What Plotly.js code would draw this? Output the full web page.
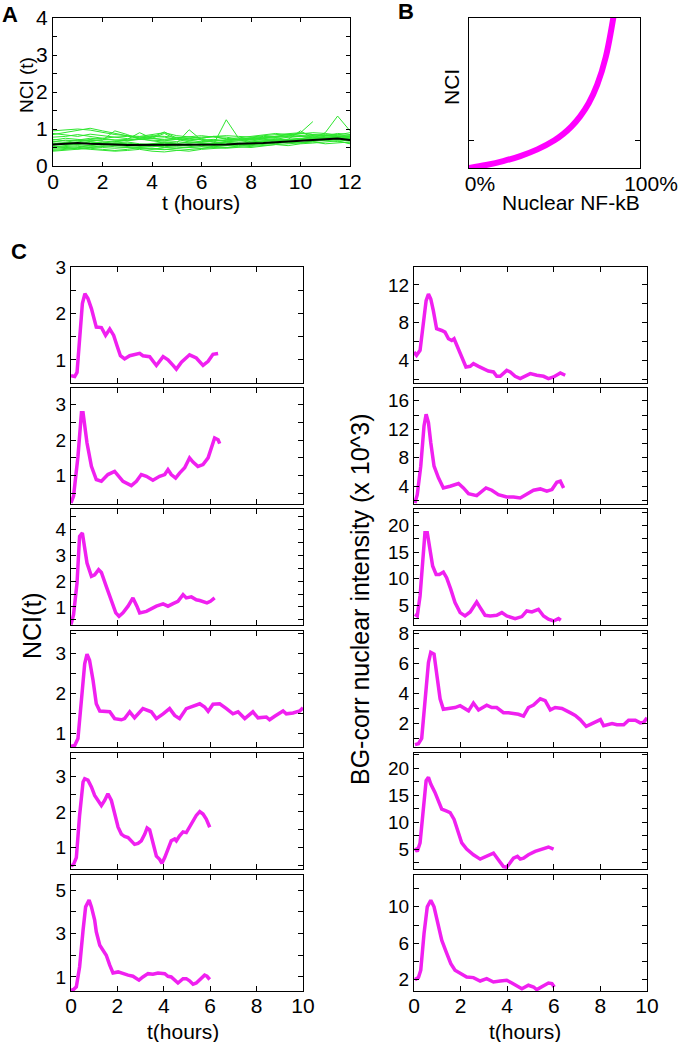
<!DOCTYPE html>
<html><head><meta charset="utf-8">
<script src="https://cdn.plot.ly/plotly-3.0.1.min.js"></script>
<style>html,body{margin:0;padding:0;background:#fff;}#chart{width:679px;height:1042px;}</style>
</head><body><div id="chart"></div>
<script>
// ---------- Panel A data (t in hours, NCI) ----------
var A_t = [0,0.5,1,1.5,2,2.5,3,3.5,4,4.5,5,5.5,6,6.5,7,7.5,8,8.5,9,9.5,10,10.5,11,11.5,12];
var A_g1 = [0.95,0.98,1.0,0.97,0.9,0.85,0.82,0.8,0.85,0.9,0.82,0.78,0.75,0.8,0.78,0.72,0.75,0.8,0.78,0.82,0.8,0.78,0.8,0.85,0.8];
var A_g2 = [0.85,0.9,0.95,1.02,0.95,0.88,0.8,0.75,0.8,0.78,0.72,0.7,0.75,0.8,0.72,0.7,0.72,0.75,0.8,0.85,0.82,0.8,0.82,0.78,0.75];
var A_g3 = [0.7,0.75,0.72,0.68,0.7,0.95,0.85,0.72,0.7,0.68,0.72,0.7,0.65,0.68,0.7,0.72,0.75,0.7,0.72,0.78,0.8,0.75,0.78,0.8,0.82];
var A_g4 = [0.6,0.62,0.65,0.7,0.68,0.65,0.7,0.72,0.75,0.88,0.72,0.65,0.62,0.6,1.25,0.75,0.65,0.68,0.7,0.72,0.75,0.72,0.7,0.75,0.72];
var A_g5 = [0.58,0.6,0.62,0.6,0.58,0.62,0.65,0.6,0.58,0.62,0.6,0.65,0.62,0.6,0.65,0.68,0.7,0.72,0.75,0.8,0.9,1.2,null,null,null];
var A_g6 = [0.5,0.52,0.55,0.5,0.52,0.55,0.58,0.55,0.52,0.55,0.58,0.6,0.58,0.62,0.6,0.58,0.62,0.65,0.7,0.68,0.72,0.75,0.9,1.35,0.95];
var A_g7 = [0.45,0.48,0.5,0.52,0.5,0.48,0.5,0.52,0.55,0.5,0.48,0.5,0.52,0.55,0.58,0.55,0.6,0.62,0.65,0.62,0.68,0.7,0.72,0.7,0.68];
var A_g8 = [0.65,0.7,0.68,0.72,0.75,0.7,0.68,0.72,0.78,0.92,0.75,0.7,0.72,0.68,0.7,0.72,0.75,0.78,0.8,0.85,0.88,0.85,0.82,0.8,0.78];
var A_g9 = [0.4,0.42,0.45,0.48,0.45,0.42,0.45,0.5,0.48,0.45,0.42,0.4,0.45,0.48,0.5,0.52,0.5,0.55,0.58,0.6,0.62,0.65,0.6,0.62,0.65];
var A_g10 = [0.52,0.55,0.58,0.62,0.65,0.6,0.62,0.58,0.6,0.65,0.62,0.98,0.7,0.65,0.62,0.6,0.65,0.68,0.7,0.72,0.95,0.75,0.72,0.78,0.8];
var A_g11 = [0.62,0.58,0.6,0.65,0.62,0.6,0.58,0.55,0.6,0.62,0.58,0.55,0.6,0.62,0.65,0.6,0.58,0.62,0.68,0.7,0.72,0.7,0.75,0.72,0.7];
var A_g12 = [0.72,0.68,0.7,0.75,0.72,0.7,0.72,0.9,0.75,0.7,0.72,0.75,0.7,0.72,0.68,0.7,0.72,0.75,0.8,0.78,0.8,0.82,0.85,0.82,0.8];
var A_g13 = [0.48,0.5,0.46,0.5,0.55,0.52,0.5,0.48,0.45,0.5,0.52,0.5,0.48,0.52,0.55,0.58,0.55,0.58,0.6,0.65,0.62,0.68,0.7,0.72,0.75];
var A_g14 = [0.56,0.6,0.58,0.55,0.58,0.62,0.6,0.58,0.55,0.52,0.55,0.58,0.6,0.58,0.55,0.58,0.6,0.62,0.6,0.65,0.7,0.72,0.75,0.78,0.72];
var A_g15 = [0.78,0.8,0.85,0.8,0.75,0.78,0.8,0.78,0.82,0.8,0.78,0.75,0.78,0.8,0.82,0.8,0.78,0.82,0.85,0.88,0.9,0.85,0.82,0.88,0.85];
var A_g16 = [0.42,0.45,0.48,0.45,0.42,0.4,0.42,0.45,0.4,0.38,0.42,0.45,0.48,0.5,0.48,0.5,0.52,0.55,0.58,0.55,0.6,0.62,0.65,0.68,0.6];
var A_g17 = [0.66,0.64,0.7,0.66,0.62,0.66,0.7,0.74,0.68,0.64,0.66,0.62,0.66,0.7,0.66,0.64,0.68,0.72,0.74,0.7,0.74,0.78,0.76,0.8,0.76];
var A_g18 = [0.54,0.5,0.52,0.56,0.6,0.56,0.52,0.5,0.46,0.44,0.48,0.52,0.56,0.52,0.5,0.54,0.58,0.6,0.64,0.66,0.64,0.66,0.7,0.66,0.62];
var A_g19 = [0.88,0.84,0.8,0.86,0.82,0.78,0.74,0.78,0.76,0.72,0.76,0.8,0.82,0.78,0.74,0.76,0.8,0.84,0.88,0.84,0.86,0.9,0.88,0.84,0.9];
var A_mean = [0.58,0.6,0.62,0.6,0.58,0.58,0.57,0.57,0.57,0.57,0.56,0.56,0.57,0.58,0.58,0.6,0.6,0.62,0.64,0.66,0.68,0.7,0.7,0.74,0.7];
var A_xticks = [0,2,4,6,8,10,12];
var A_xlabels = ['0','2','4','6','8','10','12'];
var A_yticks = [0,0.5,1,1.5,2,2.5,3,3.5,4];
var A_ylabels = ['0','','1','','2','','3','','4'];

// ---------- Panel B data ----------
var B_x = [0,0.1,0.2,0.3,0.4,0.5,0.55,0.6,0.65,0.7,0.75,0.8,0.845];
var B_y = [0,0.11,0.25,0.43,0.67,1.0,1.22,1.5,1.86,2.33,3.0,4.0,5.45];
var B_xticks = [0,1];
var B_xlabels = ['0%','100%'];
var B_yticks = [0,1];

// ---------- Panel C, left column (NCI) ----------
var L1_t = [0,0.16,0.26,0.37,0.49,0.60,0.73,0.88,1.09,1.31,1.49,1.67,1.84,1.98,2.13,2.31,2.53,2.96,3.10,3.39,3.68,3.97,4.18,4.40,4.54,4.76,5.11,5.40,5.69,5.91,6.12,6.34];
var L1_v = [0.66,0.64,0.73,1.42,2.22,2.43,2.33,2.11,1.71,1.70,1.53,1.67,1.53,1.31,1.09,1.02,1.09,1.14,1.09,1.07,0.88,1.07,1.0,0.88,0.80,0.95,1.11,1.04,0.88,0.97,1.12,1.14];
var L2_t = [0,0.11,0.30,0.45,0.52,0.69,0.88,1.09,1.31,1.59,1.88,2.24,2.60,2.82,3.03,3.25,3.53,3.82,4.04,4.18,4.32,4.51,4.68,4.90,5.11,5.26,5.47,5.69,5.91,6.19,6.34,6.41];
var L2_v = [0.23,0.42,1.54,2.77,2.77,1.92,1.26,0.89,0.84,1.03,1.12,0.84,0.72,0.84,1.03,0.98,0.87,0.98,1.03,1.17,1.03,0.93,1.07,1.22,1.5,1.38,1.26,1.31,1.5,2.06,2.01,1.9];
var L3_t = [0,0.11,0.26,0.37,0.49,0.59,0.69,0.88,1.02,1.19,1.31,1.52,1.74,1.93,2.07,2.24,2.46,2.67,2.84,2.96,3.25,3.68,3.97,4.18,4.40,4.61,4.83,4.97,5.19,5.40,5.55,5.69,5.86,6.01,6.19];
var L3_v = [0.32,0.7,1.93,3.74,3.87,3.35,2.7,2.19,2.25,2.45,2.34,1.8,1.22,0.77,0.64,0.77,1.03,1.35,1.03,0.77,0.83,1.03,1.12,1.03,1.13,1.22,1.48,1.35,1.39,1.28,1.25,1.22,1.16,1.22,1.35];
var L4_t = [0,0.16,0.30,0.45,0.59,0.69,0.80,0.95,1.09,1.24,1.45,1.67,1.88,2.17,2.31,2.53,2.74,3.10,3.46,3.68,3.97,4.25,4.47,4.68,4.97,5.26,5.55,5.76,5.91,6.12,6.41,6.70,6.98,7.20,7.49,7.84,8.06,8.42,8.56,8.78,9.14,9.28,9.57,9.86,10];
var L4_v = [0.67,0.69,0.86,1.82,2.73,2.97,2.82,2.32,1.73,1.55,1.53,1.53,1.36,1.33,1.36,1.53,1.38,1.61,1.53,1.36,1.48,1.61,1.44,1.36,1.61,1.67,1.73,1.65,1.54,1.72,1.73,1.61,1.48,1.53,1.36,1.53,1.38,1.4,1.33,1.42,1.55,1.48,1.5,1.55,1.63];
var L5_t = [0,0.11,0.23,0.37,0.52,0.59,0.73,0.88,1.02,1.24,1.31,1.45,1.59,1.74,1.88,2.03,2.17,2.31,2.46,2.60,2.74,2.89,3.03,3.18,3.28,3.39,3.53,3.68,3.82,3.92,4.04,4.18,4.32,4.47,4.54,4.68,4.83,4.97,5.19,5.40,5.55,5.69,5.83,5.98];
var L5_v = [0.48,0.53,0.72,1.9,2.84,2.93,2.89,2.7,2.46,2.27,2.18,2.32,2.51,2.32,1.99,1.57,1.38,1.31,1.28,1.19,1.09,1.12,1.19,1.38,1.55,1.5,1.14,0.76,0.67,0.56,0.72,0.95,1.19,1.24,1.19,1.33,1.44,1.42,1.66,1.9,2.01,1.94,1.8,1.57];
var L6_t = [0,0.11,0.23,0.37,0.52,0.63,0.78,0.88,1.02,1.09,1.24,1.38,1.52,1.67,1.81,2.03,2.24,2.46,2.67,2.93,3.10,3.32,3.53,3.75,4.04,4.18,4.32,4.47,4.61,4.83,4.97,5.11,5.26,5.40,5.62,5.76,5.86,5.98];
var L6_v = [0.38,0.42,0.54,1.46,3.15,4.23,4.54,4.23,3.62,3.08,2.46,2.23,2.0,1.54,1.18,1.23,1.15,1.08,1.03,0.85,1.0,1.15,1.12,1.18,1.15,1.03,1.0,0.85,0.72,0.92,0.92,0.82,0.66,0.72,0.92,1.08,1.03,0.88];

// ---------- Panel C, right column (BG-corr nuclear intensity, x 10^3) ----------
var R1_t = [0,0.11,0.26,0.40,0.52,0.62,0.72,0.83,0.97,1.19,1.33,1.48,1.62,1.72,1.86,2.05,2.23,2.41,2.55,2.77,2.98,3.19,3.41,3.55,3.70,3.98,4.13,4.34,4.56,4.77,4.99,5.27,5.56,5.77,5.99,6.28,6.49];
var R1_v = [4.88,4.53,5.06,7.87,10.34,11.04,10.51,9.28,7.35,7.17,7.0,6.29,6.11,6.29,5.41,4.18,3.3,3.37,3.65,3.37,3.12,2.87,2.77,2.31,2.31,2.94,2.77,2.31,2.06,2.31,2.59,2.42,2.31,2.06,2.24,2.66,2.42];
var R2_t = [0.04,0.14,0.29,0.43,0.52,0.62,0.72,0.86,1.05,1.26,1.55,1.91,2.12,2.34,2.69,2.91,3.09,3.34,3.62,3.98,4.27,4.56,4.84,5.13,5.42,5.70,5.92,6.13,6.28,6.42];
var R2_v = [1.65,2.82,6.82,12.47,14.12,12.94,10.12,6.82,5.18,3.76,4.0,4.38,3.76,2.96,2.68,3.29,3.76,3.44,2.82,2.49,2.49,2.35,2.82,3.44,3.62,3.29,3.53,4.56,4.71,3.76];
var R3_t = [0.04,0.14,0.26,0.40,0.47,0.57,0.69,0.80,0.95,1.09,1.26,1.40,1.58,1.76,1.98,2.19,2.41,2.69,2.84,3.05,3.27,3.55,3.77,3.98,4.34,4.63,4.84,5.06,5.34,5.56,5.77,5.99,6.20,6.30];
var R3_v = [3.31,3.0,6.75,14.88,18.63,18.63,14.88,12.38,10.81,10.81,11.25,10.19,8.0,5.5,3.63,3.0,3.75,5.63,4.56,3.13,3.0,3.13,3.63,3.0,2.5,2.88,3.94,3.75,4.25,3.0,2.38,2.06,2.5,2.19];
var R4_t = [0.04,0.19,0.33,0.47,0.62,0.72,0.86,1.0,1.12,1.26,1.48,1.76,1.98,2.34,2.55,2.77,3.12,3.34,3.55,3.84,4.05,4.27,4.48,4.70,4.91,5.13,5.42,5.63,5.85,6.06,6.35,6.70,6.92,7.13,7.39,7.64,7.85,8.0,8.14,8.35,8.5,8.71,9.0,9.21,9.5,9.71,9.86,10];
var R4_v = [0.61,0.67,1.02,3.65,6.05,6.73,6.62,5.02,3.65,2.96,3.01,3.07,3.19,2.85,3.37,2.91,3.23,3.07,3.07,2.73,2.73,2.69,2.62,2.5,3.07,3.23,3.65,3.53,2.91,3.07,3.01,2.73,2.55,2.27,1.82,2.0,2.16,2.27,1.86,1.93,2.0,1.93,1.93,2.23,2.23,2.05,2.09,2.39];
var R5_t = [0.04,0.14,0.26,0.40,0.52,0.62,0.72,0.90,1.05,1.19,1.38,1.55,1.72,1.91,2.05,2.26,2.55,2.84,3.12,3.41,3.62,3.84,3.98,4.13,4.27,4.44,4.56,4.70,4.91,5.20,5.49,5.77,5.99];
var R5_v = [5.19,4.56,6.13,13.0,17.69,18.31,17.06,15.5,13.94,12.38,12.06,11.75,10.5,8.0,6.13,5.0,3.94,3.13,3.75,4.25,3.0,1.75,1.63,2.5,3.31,3.63,3.13,3.31,3.94,4.56,5.0,5.38,5.0];
var R6_t = [0.04,0.19,0.29,0.43,0.57,0.72,0.86,1.05,1.19,1.38,1.58,1.76,2.05,2.26,2.55,2.84,3.12,3.41,3.70,3.98,4.20,4.41,4.63,4.91,5.13,5.27,5.49,5.77,5.92,6.02];
var R6_v = [2.0,2.22,3.03,7.06,10.0,10.73,10.0,7.8,6.33,5.05,3.76,3.03,2.66,2.29,2.22,1.85,2.11,1.74,1.85,1.93,1.63,1.27,1.0,1.38,1.19,0.9,1.19,1.63,1.56,1.19];

// ---------- Panel C axis ranges & ticks ----------
var C_xticks = [0,2,4,6,8,10];
var C_xlabels = ['0','2','4','6','8','10'];
var L1_range = [0.5,3.01], L1_ticks = [0.5,1,1.5,2,2.5,3], L1_labels = ['','1','','2','','3'];
var L2_range = [0.2,3.47], L2_ticks = [0.5,1,1.5,2,2.5,3], L2_labels = ['','1','','2','','3'];
var L3_range = [0.3,4.8], L3_ticks = [0.5,1,1.5,2,2.5,3,3.5,4,4.5], L3_labels = ['','1','','2','','3','','4',''];
var L4_range = [0.65,3.55], L4_ticks = [1,1.5,2,2.5,3,3.5], L4_labels = ['1','','2','','3',''];
var L5_range = [0.4,3.65], L5_ticks = [0.5,1,1.5,2,2.5,3,3.5], L5_labels = ['','1','','2','','3',''];
var L6_range = [0.35,5.7], L6_ticks = [1,2,3,4,5], L6_labels = ['1','','3','','5'];
var R1_range = [1.6,13.9], R1_ticks = [2,4,6,8,10,12], R1_labels = ['','4','','8','','12'];
var R2_range = [1.5,17.8], R2_ticks = [2,4,6,8,10,12,14,16], R2_labels = ['','4','','8','','12','','16'];
var R3_range = [1.3,23.1], R3_ticks = [2.5,5,7.5,10,12.5,15,17.5,20,22.5], R3_labels = ['','5','','10','','15','','20',''];
var R4_range = [0.45,8.15], R4_ticks = [1,2,3,4,5,6,7,8], R4_labels = ['','2','','4','','6','','8'];
var R5_range = [1.3,22.8], R5_ticks = [2.5,5,7.5,10,12.5,15,17.5,20,22.5], R5_labels = ['','5','','10','','15','','20',''];
var R6_range = [0.75,13.5], R6_ticks = [2,4,6,8,10,12], R6_labels = ['2','','6','','10',''];

// ---------- build ----------
var W = 679, H = 1042;
function X(px){ return px / W; }
function Y(py){ return 1 - py / H; }
var MAG = '#f020f0';
var FONT = 'Liberation Sans, Arial, Helvetica, sans-serif';
var common = {showline:true, linecolor:'#000', linewidth:1, mirror:'ticks', ticks:'inside',
  ticklen:5, tickwidth:1, tickcolor:'#000', showgrid:false, zeroline:false, fixedrange:true};
function ax(o){ var r = {}; for (var k in common) r[k] = common[k]; for (var k2 in o) r[k2] = o[k2]; return r; }

var traces = [];
var greens = [A_g1,A_g2,A_g3,A_g4,A_g5,A_g6,A_g7,A_g8,A_g9,A_g10,A_g11,A_g12,A_g13,A_g14,A_g15,A_g16,A_g17,A_g18,A_g19];
greens.forEach(function(g){
  traces.push({x:A_t, y:g, xaxis:'x', yaxis:'y', mode:'lines', line:{color:'#2ee62e', width:1}, hoverinfo:'skip', connectgaps:false});
});
traces.push({x:A_t, y:A_mean, xaxis:'x', yaxis:'y', mode:'lines', line:{color:'#000', width:2}});
traces.push({x:B_x, y:B_y, xaxis:'x2', yaxis:'y2', mode:'lines', line:{color:'#ff00ff', width:6, shape:'spline'}});

var layout = {
  width:W, height:H, margin:{l:0,r:0,t:0,b:0}, showlegend:false,
  paper_bgcolor:'#fff', plot_bgcolor:'#fff', font:{family:FONT, color:'#000'},
  xaxis: ax({domain:[X(53),X(350)], range:[0,12], anchor:'y', tickvals:A_xticks, ticktext:A_xlabels, tickfont:{size:21}, ticklen:4, ticklabelstandoff:-3}),
  yaxis: ax({domain:[Y(166),Y(18)], range:[0,4], anchor:'x', tickvals:A_yticks, ticktext:A_ylabels, tickfont:{size:21}, ticklen:4}),
  xaxis2: ax({domain:[X(469),X(640)], range:[0,1], anchor:'y2', tickvals:B_xticks, ticktext:B_xlabels, tickfont:{size:21}, ticklabelshift:11, ticklabelstandoff:-3}),
  yaxis2: ax({domain:[Y(168),Y(18)], range:[0,5.4], anchor:'x2', tickvals:B_yticks, showticklabels:false}),
  annotations: []
};

var leftT = [L1_t,L2_t,L3_t,L4_t,L5_t,L6_t], leftV = [L1_v,L2_v,L3_v,L4_v,L5_v,L6_v];
var rightT = [R1_t,R2_t,R3_t,R4_t,R5_t,R6_t], rightV = [R1_v,R2_v,R3_v,R4_v,R5_v,R6_v];
var leftR = [L1_range,L2_range,L3_range,L4_range,L5_range,L6_range];
var rightR = [R1_range,R2_range,R3_range,R4_range,R5_range,R6_range];
var leftTk = [L1_ticks,L2_ticks,L3_ticks,L4_ticks,L5_ticks,L6_ticks];
var rightTk = [R1_ticks,R2_ticks,R3_ticks,R4_ticks,R5_ticks,R6_ticks];
var leftLb = [L1_labels,L2_labels,L3_labels,L4_labels,L5_labels,L6_labels];
var rightLb = [R1_labels,R2_labels,R3_labels,R4_labels,R5_labels,R6_labels];
var rowTop = [267,388,509,631,753,875], rowH = 116;
var cols = [{x0:71,x1:303,T:leftT,V:leftV,R:leftR,Tk:leftTk,Lb:leftLb},
            {x0:414,x1:647,T:rightT,V:rightV,R:rightR,Tk:rightTk,Lb:rightLb}];
var n = 3;
cols.forEach(function(c){
  for (var i = 0; i < 6; i++) {
    var xs = 'x' + n, ys = 'y' + n;
    traces.push({x:c.T[i], y:c.V[i], xaxis:xs, yaxis:ys, mode:'lines', line:{color:MAG, width:3.5}});
    layout['xaxis' + n] = ax({domain:[X(c.x0),X(c.x1)], range:[0,10], anchor:ys, tickvals:C_xticks, ticktext:C_xlabels,
      showticklabels:(i === 5), tickfont:{size:21}, ticklabelstandoff:-4});
    layout['yaxis' + n] = ax({domain:[Y(rowTop[i]+rowH),Y(rowTop[i])], range:c.R[i], anchor:xs, tickvals:c.Tk[i], ticktext:c.Lb[i],
      tickfont:{size:19}});
    n++;
  }
});

function ann(text, px, py, size, angle, xa){
  layout.annotations.push({text:text, x:X(px), y:Y(py), xref:'paper', yref:'paper', showarrow:false,
    xanchor:xa || 'center', yanchor:'middle', textangle:angle || 0, font:{size:size, family:FONT, color:'#000'}});
}
ann('<b>A</b>', 0, 15, 22, 0, 'left');
ann('<b>B</b>', 396, 12, 22, 0, 'left');
ann('<b>C</b>', 9, 251, 22, 0, 'left');
ann('NCI (t)', 26, 85, 19, -90);
ann('t (hours)', 201, 203, 21);
ann('NCI', 452, 87, 21, -90);
ann('Nuclear NF-kB', 571, 203, 21);
ann('NCI(t)', 32, 626, 25, -90);
ann('BG-corr nuclear intensity (x 10^3)', 360, 599, 25, -90);
ann('t(hours)', 183, 1031, 21);
ann('t(hours)', 525, 1031, 21);

Plotly.newPlot('chart', traces, layout, {displayModeBar:false, staticPlot:true});
</script></body></html>
